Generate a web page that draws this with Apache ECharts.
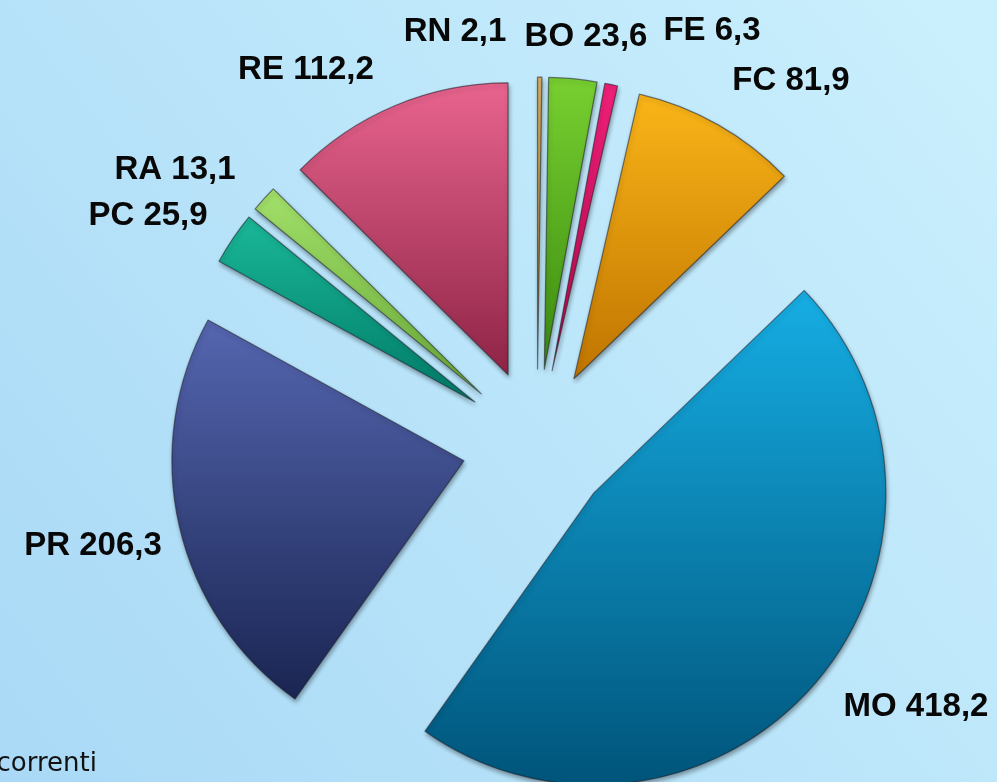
<!DOCTYPE html>
<html>
<head>
<meta charset="utf-8">
<script src="https://cdn.jsdelivr.net/npm/echarts@6/dist/echarts.min.js"></script>
<style>
html,body{margin:0;padding:0;width:997px;height:782px;overflow:hidden;}
#chart{width:997px;height:782px;}
</style>
</head>
<body>
<div id="chart"></div>
<script>
// Categories (clockwise from 12 o'clock) and values
const categories = ['RN', 'BO', 'FE', 'FC', 'MO', 'PR', 'PC', 'RA', 'RE'];
const values = [2.1, 23.6, 6.3, 81.9, 418.2, 206.3, 25.9, 13.1, 112.2];

// Styling (top, bottom gradient colours)
const sliceColors = [
  ['#d8b060', '#a07830'],
  ['#78d030', '#3a8a10'],
  ['#f0207a', '#b00848'],
  ['#fab518', '#bf7400'],
  ['#16aee4', '#00547a'],
  ['#5566b0', '#1a2552'],
  ['#1ab898', '#007a68'],
  ['#a2e06a', '#68a838'],
  ['#e8648e', '#8e2446']
];
// label centre positions (px)
const labelPos = {
  RN: [455, 32], BO: [586, 37], FE: [712, 31], FC: [791, 81],
  MO: [916, 707], PR: [93, 546], PC: [148, 216], RA: [175, 170], RE: [306, 70]
};

function fmt(v) { return v.toFixed(1).replace('.', ','); }

const chart = echarts.init(document.getElementById('chart'), null, {renderer: 'canvas'});

const pieData = categories.map((c, i) => ({
  name: c,
  value: values[i],
  selected: true,
  itemStyle: {
    color: new echarts.graphic.LinearGradient(0, 0, 0, 1, [
      {offset: 0, color: sliceColors[i][0]},
      {offset: 1, color: sliceColors[i][1]}
    ])
  }
}));

const labelTexts = categories.map((c, i) => ({
  type: 'text',
  x: labelPos[c][0],
  y: labelPos[c][1],
  z: 100,
  style: {
    text: c + ' ' + fmt(values[i]),
    fontFamily: '"Liberation Sans", Arial, sans-serif',
    fontWeight: 'bold',
    fontSize: 33,
    fill: '#080808',
    align: 'center',
    verticalAlign: 'middle',
    textAlign: 'center',
    textVerticalAlign: 'middle',
    shadowColor: 'rgba(255,255,255,0.7)',
    shadowBlur: 3
  }
}));

chart.setOption({
  animation: false,
  backgroundColor: new echarts.graphic.LinearGradient(1, 0, 0, 1, [
    {offset: 0, color: '#cbf0fd'},
    {offset: 1, color: '#a9d9f6'}
  ]),
  series: [{
    type: 'pie',
    center: [537, 444],
    radius: 292,
    startAngle: 90,
    clockwise: true,
    selectedMode: 'multiple',
    selectedOffset: 75,
    avoidLabelOverlap: false,
    emphasis: {disabled: true},
    itemStyle: {
      borderColor: 'rgba(30,30,40,0.55)',
      borderWidth: 1.2,
      shadowColor: 'rgba(0,0,0,0.35)',
      shadowBlur: 4,
      shadowOffsetX: 1,
      shadowOffsetY: 3
    },
    label: {show: false},
    labelLine: {show: false},
    data: pieData
  }],
  graphic: labelTexts.concat([{
    type: 'text',
    x: 97,
    y: 777,
    style: {
      text: 'correnti',
      fontFamily: '"DejaVu Sans", sans-serif',
      fontSize: 26,
      fill: '#111',
      align: 'right',
      verticalAlign: 'bottom',
      textAlign: 'right',
      textVerticalAlign: 'bottom'
    }
  }])
});
</script>
</body>
</html>
